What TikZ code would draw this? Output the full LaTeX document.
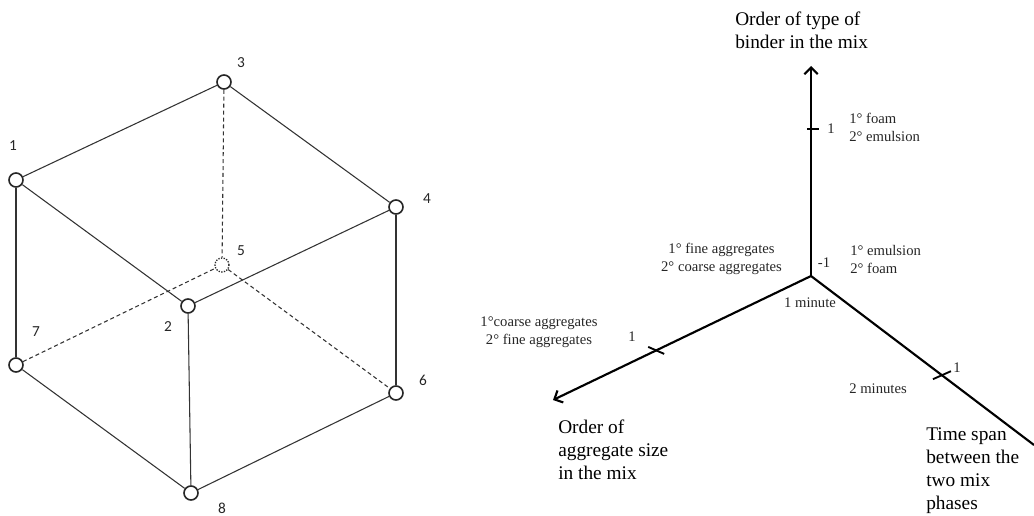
\documentclass[tikz,border=0pt]{standalone}
\usepackage{fontspec}
\setmainfont{Liberation Serif}
\newfontfamily\cubefont{Carlito}
\usetikzlibrary{arrows.meta,calc}
\begin{document}
\begin{tikzpicture}[x=0.75pt,y=-0.75pt,
  vtx/.style={circle,draw=black!85,line width=1.2pt,fill=white,minimum size=10.5pt,inner sep=0pt},
  hidvtx/.style={circle,draw=black!85,line width=1pt,dash pattern=on 1pt off 1pt,fill=white,minimum size=10.5pt,inner sep=0pt},
  edge/.style={draw=black!80,line width=0.8pt},
  hidedge/.style={draw=black!80,line width=0.8pt,dash pattern=on 3pt off 2.2pt},
  num/.style={font=\cubefont\fontsize{11.5}{13}\selectfont,text=black!85,inner sep=0pt},
  axis/.style={draw=black,line width=1.6pt},
  axarrow/.style={-{Straight Barb[length=5pt,width=10pt,line width=1.6pt]}},
  tickline/.style={draw=black,line width=1.4pt},
  big/.style={font=\fontsize{14.5}{17.3}\selectfont,inner sep=0pt,align=left,anchor=west},
  small/.style={font=\fontsize{11}{13.5}\selectfont,text=black!85,inner sep=0pt},
]
\useasboundingbox (0,0) rectangle (1034,516);

% ---------- cube ----------
\node[vtx] (v1) at (16,180) {};
\node[vtx] (v2) at (188,306) {};
\node[vtx] (v3) at (224,82) {};
\node[vtx] (v4) at (396,207) {};
\node[hidvtx] (v5) at (222,265) {};
\node[vtx] (v6) at (396,393) {};
\node[vtx] (v7) at (16,365) {};
\node[vtx] (v8) at (191,493) {};

\draw[edge] (v1) -- (v3);
\draw[edge] (v3) -- (v4);
\draw[edge] (v1) -- (v2);
\draw[edge] (v2) -- (v4);
\draw[edge] (v1) -- (v7);
\draw[edge] (v2) -- (v8);
\draw[edge] (v4) -- (v6);
\draw[edge] (v7) -- (v8);
\draw[edge] (v8) -- (v6);
\draw[hidedge] (v3) -- (v5);
\draw[hidedge] (v7) -- (v5);
\draw[hidedge] (v5) -- (v6);

\node[num] (n1) at (13,146) {1};
\node[num] (n2) at (168,327) {2};
\node[num] (n3) at (241,63) {3};
\node[num] (n4) at (427,199) {4};
\node[num] (n5) at (241,251) {5};
\node[num] (n6) at (423,380) {6};
\node[num] (n7) at (36,332) {7};
\node[num] (n8) at (222,508) {8};

% ---------- axes ----------
\coordinate (O) at (811,276);
\coordinate (Ztip) at (811,66);
\coordinate (Xtip) at (553,400);
\coordinate (Yend) at (1034,445);

\draw[axis,axarrow] (O) -- (Ztip);
\draw[axis,axarrow] (O) -- (Xtip);
\draw[axis] (O) -- (Yend);

\coordinate (tz) at ($(O)!0.70!(Ztip)$);
\coordinate (tx) at ($(O)!0.60!(Xtip)$);
\coordinate (ty) at ($(O)!0.587!(Yend)$);
\draw[tickline] (tz) ++(-4,0) -- ++(12,0);
\draw[tickline] (tx) ++(-8,-3.5) -- ++(16,7);
\draw[tickline] (ty) ++(-9,4) -- ++(18,-8);

% ---------- labels ----------
\node[big] (lz) at (735,30) {Order of type of\\binder in the mix};
\node[big] (lx) at (558,450) {Order of\\aggregate size\\in the mix};
\node[big] (ly) at (926,471) {Time span\\between the\\two mix\\phases};

\node[small] (z1) at (831,129) {1};
\node[small,align=left,anchor=west] (zfoam) at (849,127) {1° foam\\2° emulsion};
\node[small,align=left,anchor=west] (zemul) at (850,259) {1° emulsion\\2° foam};
\node[small] (zm1) at (824,263) {-1};
\node[small,align=center] (xfine) at (721.5,259) {1° fine aggregates\\2° coarse aggregates};
\node[small] (min1) at (810,303) {1 minute};
\node[small,align=center] (xcoarse) at (539,332) {1°coarse aggregates\\2° fine aggregates};
\node[small] (x1) at (632,337) {1};
\node[small] (y1) at (957,368) {1};
\node[small] (min2) at (878,389) {2 minutes};
\end{tikzpicture}
\end{document}
